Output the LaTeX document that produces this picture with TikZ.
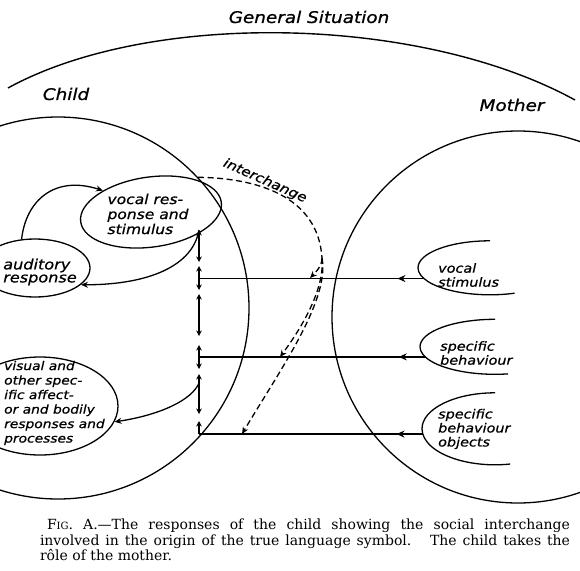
\documentclass[tikz,border=0pt]{standalone}
\usepackage{fontspec}
\usepackage{tikz}
\usetikzlibrary{shapes.geometric, arrows.meta, decorations.markings}
\newfontfamily\hand{DejaVu Sans}[FakeStretch=1.15, FakeBold=0.8]
\newfontfamily\capfont{DejaVu Serif}

\begin{document}
\begin{tikzpicture}[x=1pt, y=-1pt,
  ring/.style = {circle, draw, line width=1.3pt, inner sep=0pt},
  blob/.style = {ellipse, draw, line width=1.3pt, inner sep=0pt},
  cup/.style = {ellipse, inner sep=0pt},
  lbl/.style 2 args = {font=\hand\itshape\fontsize{#1}{#2}\selectfont, align=left, inner sep=0pt},
  headline/.style = {font=\hand\itshape\fontsize{16}{19}\selectfont, inner sep=0pt},
  capnode/.style = {font=\capfont\fontsize{14}{15.5}\selectfont, text width=530pt, align=justify, inner sep=0pt},
  feed/.style = {line width=1.6pt, postaction={decorate},
    decoration={markings, mark=at position 26pt with {\arrow{Stealth[length=8pt,width=7pt]}}}},
  updown/.style = {{Stealth[length=5.5pt,width=5.5pt]}-{Stealth[length=5.5pt,width=5.5pt]}, line width=1.1pt},
  arrow/.style = {-{Stealth[length=7pt,width=6pt]}, line width=1.3pt},
  xchg/.style = {line width=1.3pt, dash pattern=on 6pt off 3.5pt}
]
\useasboundingbox (0,0) rectangle (580,570);
\clip (0,0) rectangle (580,570);

% general situation and the two sides
\draw[line width=1.4pt] (8,88) .. controls (150,10) and (420,15) .. (575,100);
\node[headline] (gs) at (309,17) {General Situation};
\node[headline] (childlbl) at (66,94) {Child};
\node[headline] (motherlbl) at (512,105) {Mother};

\node[ring, minimum size=382pt] (child) at (58,308) {};
\node[ring, minimum size=372pt] (mother) at (518,317) {};

% Child side
\node[blob, rotate=8, minimum width=142pt, minimum height=70pt] (vocal) at (151,212) {};
\node[lbl={13.5}{15}] (vocaltxt) at (148,214) {vocal res-\\ponse and\\stimulus};
\node[blob, minimum width=110pt, minimum height=58pt] (aud) at (35,268) {};
\node[lbl={14}{13}] (audtxt) at (40,272) {auditory\\response};
\node[blob, minimum width=156pt, minimum height=98pt] (vis) at (40,406) {};
\node[lbl={12}{14.5}, anchor=west] (vistxt) at (4,403) {visual and\\other spec-\\ific affect-\\or and bodily\\responses and\\processes};

% Mother side
\node[cup, minimum width=144pt, minimum height=54pt] (vs) at (490,268) {};
\node[cup, minimum width=150pt, minimum height=55pt] (sb) at (495,347) {};
\node[cup, minimum width=146pt, minimum height=72pt] (sbo) at (495,429) {};
\draw[line width=1.3pt] (vs.north) arc[start angle=270, end angle=70, x radius=72, y radius=27];
\draw[line width=1.3pt] (sb.north) arc[start angle=270, end angle=80, x radius=75, y radius=27.5];
\draw[line width=1.3pt] (sbo.north) arc[start angle=270, end angle=78, x radius=73, y radius=36];
\node[lbl={12.5}{14}, anchor=west] (vstxt) at (438,275) {vocal\\stimulus};
\node[lbl={12.5}{14}, anchor=west] (sbtxt) at (440,353) {specific\\behaviour};
\node[lbl={12.5}{14}, anchor=west] (sbotxt) at (438,429) {specific\\behaviour\\objects};

% column of double arrows
\coordinate (col) at (199,0);
\foreach \i/\y in {0/230, 1/262, 2/266, 3/290, 4/294, 5/336, 6/345, 7/369, 8/374, 9/414, 10/421, 11/434}
  \coordinate (c\i) at (199,\y);
\foreach \a/\b in {0/1, 2/3, 4/5, 6/7, 8/9}
  \draw[updown] (c\a) -- (c\b);
\draw[-{Stealth[length=5.5pt,width=5.5pt]}, line width=1.1pt] (c11) -- (c10);

% stimuli coming in from the mother
\draw[feed] (vs.189) -- (vs.189 -| col);
\draw[feed] (sb.188) -- (sb.188 -| col);
\draw[feed] (sbo.184) -- (sbo.184 -| col);

% inside the child
\coordinate (cvis) at (199,383);
\draw[arrow] (aud.115) .. controls (26,200) and (55,175) .. (vocal.148);
\draw[arrow] (c0) .. controls (192,270) and (140,285) .. (aud.-20);
\draw[arrow] (cvis) .. controls (192,400) and (160,415) .. (vis.-12);

% interchange
\coordinate (split) at (322,258);
\coordinate (hitA) at (310,278);
\coordinate (hitB) at (280,357);
\coordinate (hitC) at (242,434);
\draw[xchg] (child.43) .. controls (255,178) and (318,195) .. (split);
\draw[xchg, arrow] (split) .. controls (322,266) and (316,272) .. (hitA);
\draw[xchg, arrow] (split) .. controls (325,290) and (300,330) .. (hitB);
\draw[xchg, arrow] (split) .. controls (330,300) and (280,370) .. (hitC);
\node[lbl={13}{15}, rotate=-24] (xlbl) at (265,181) {interchange};

% caption
\node[capnode] (cap) at (305,540) {\hspace*{7pt}F{\fontsize{10}{11}\selectfont IG}. A.—The responses of the child showing the social interchange\linebreak involved in the origin of the true language symbol.\hspace{0.6em} The child takes the\linebreak rôle of the mother.};
\end{tikzpicture}
\end{document}
